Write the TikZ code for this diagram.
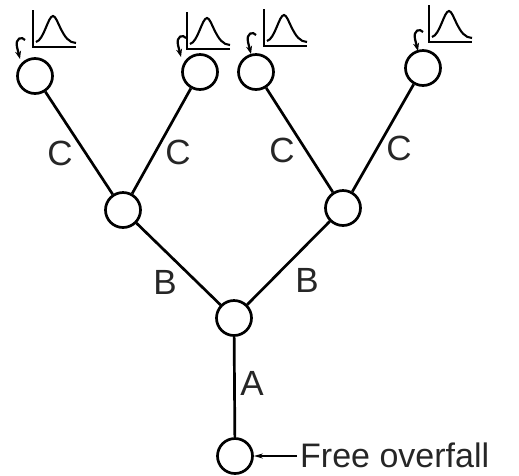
\documentclass[tikz,border=0pt]{standalone}
\usepackage{fontspec}
\setmainfont{Liberation Sans}
\usetikzlibrary{arrows.meta}
\begin{document}
\begin{tikzpicture}[x=1pt,y=-1pt,
  junc/.style={circle,draw,line width=2.7pt,minimum size=35pt,inner sep=0pt},
  reach/.style={line width=2.7pt},
  lbl/.style={font=\fontsize{35}{35}\selectfont, inner sep=0pt, text=black!85},
  axisline/.style={line width=2.6pt},
  pics/distr/.style={code={
    \draw[axisline] (0,-37) -- (0,0) -- (43,0);
    \draw[line width=2.1pt] (3,-5) .. controls (11,-7) and (15,-31) .. (20,-31) .. controls (25,-31) and (29,-4) .. (43,-4);
  }},
  pics/hook/.style={code={
    \draw[line width=2.2pt,-{Stealth[length=8pt,width=6pt]}] (5,-19) .. controls (2,-23) and (-5,-21) .. (-3,-12) -- (0,0);
  }}
]
\useasboundingbox (0,0) rectangle (519,475);

% junctions
\node[junc] (t1) at (35,76) {};
\node[junc] (t2) at (200,72) {};
\node[junc] (t3) at (256,72) {};
\node[junc] (t4) at (423,68) {};
\node[junc] (m1) at (123,210) {};
\node[junc] (m2) at (343,208) {};
\node[junc] (r)  at (234,318) {};
\node[junc] (o)  at (235,456) {};

% reaches
\draw[reach] (t1) -- (m1);
\draw[reach] (t2) -- (m1);
\draw[reach] (t3) -- (m2);
\draw[reach] (t4) -- (m2);
\draw[reach] (m1) -- (r);
\draw[reach] (m2) -- (r);
\draw[reach] (r) -- (o);

% labels
\node[lbl] (c1) at (60,153) {C};
\node[lbl] (c2) at (178,152) {C};
\node[lbl] (c3) at (282,150) {C};
\node[lbl] (c4) at (399,148) {C};
\node[lbl] (b1) at (165,282) {B};
\node[lbl] (b2) at (307,280) {B};
\node[lbl] (a)  at (252,383) {A};

% inflow hydrographs
\pic at (33,47) {distr};
\pic at (187,49) {distr};
\pic at (264,46) {distr};
\pic at (429,42) {distr};
\pic at (20,59) {hook};
\pic at (181,57) {hook};
\pic at (251,54) {hook};
\pic at (418,51) {hook};

% outlet
\node[font=\fontsize{34}{34}\selectfont, anchor=base west, inner sep=0pt, text=black!85] (fo) at (300,467) {Free overfall};
\coordinate (fa) at (297,456);
\draw[line width=2.2pt,-{Stealth[length=9pt,width=5pt]}] (fa) -- (o);
\end{tikzpicture}
\end{document}
